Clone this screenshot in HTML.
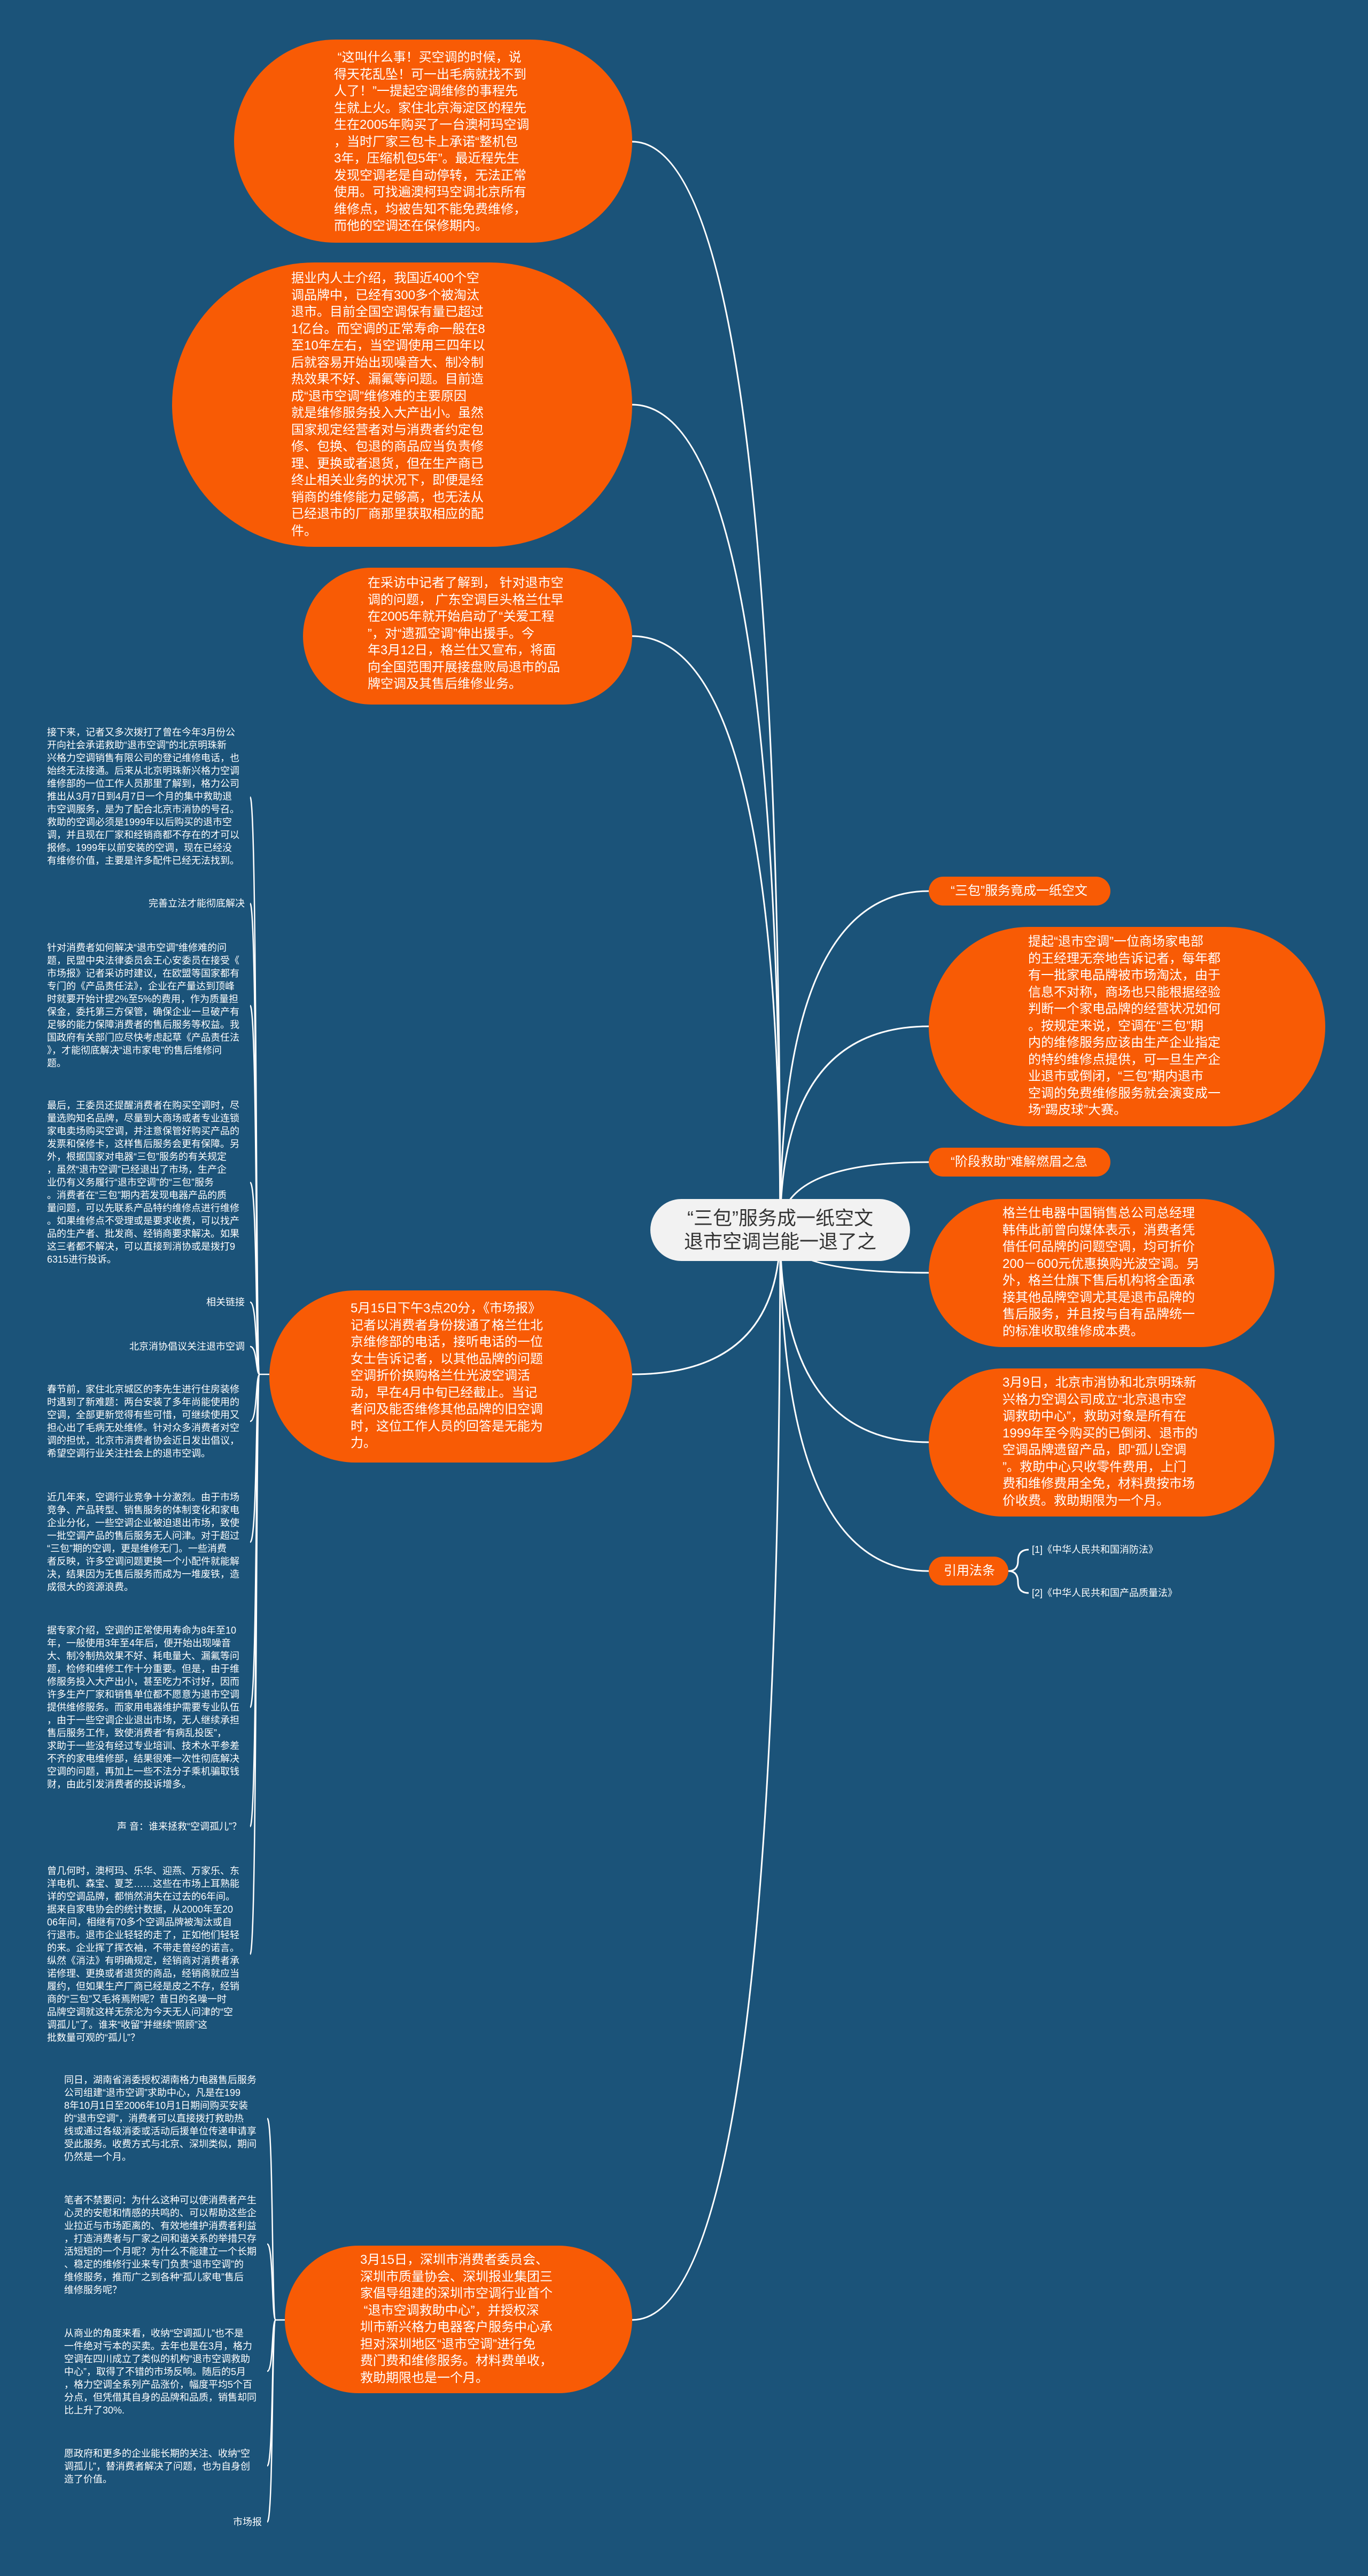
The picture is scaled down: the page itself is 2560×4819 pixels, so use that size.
<!DOCTYPE html>
<html><head><meta charset="utf-8"><style>
*{margin:0;padding:0;box-sizing:border-box}
body{width:2560px;height:4819px;background:#1b5379;position:relative;overflow:hidden;font-family:"Liberation Sans","Noto Sans CJK SC",sans-serif;color:#fff}
.b{position:absolute;background:#f85b05;border-radius:9999px}
.t{position:absolute;white-space:pre;font-size:24px;line-height:31.5px;color:#fff}
.s{position:absolute;white-space:pre;font-size:18px;line-height:24px;color:#fff}
.r{text-align:right}
svg{position:absolute;left:0;top:0}
</style></head><body>
<svg width="2560" height="4819" fill="none" stroke="#fff" stroke-width="3">
<path d="M1460 2301 Q1460 265 1183 265"/>
<path d="M1460 2301 Q1460 757 1183 757"/>
<path d="M1460 2301 Q1460 1190 1183 1190"/>
<path d="M1460 2301 Q1460 2571 1183 2571"/>
<path d="M1460 2301 Q1460 4340 1183 4340"/>
<path d="M1460 2301 Q1460 1667 1738 1667"/>
<path d="M1460 2301 Q1460 1920 1738 1920"/>
<path d="M1460 2301 Q1460 2174 1738 2174"/>
<path d="M1460 2301 Q1460 2381 1738 2381"/>
<path d="M1460 2301 Q1460 2698 1738 2698"/>
<path d="M1460 2301 Q1460 2939 1738 2939"/>
<path d="M1887 2939 Q1905 2939 1905 2920 Q1905 2899 1925 2899"/>
<path d="M1887 2939 Q1905 2939 1905 2960 Q1905 2980 1925 2980"/>
<g stroke-width="2.5">
<path d="M504 2571 L486 2571"/>
<path d="M486 2571 C478 2571 482 1491 468 1491"/>
<path d="M486 2571 C478 2571 482 1690 468 1690"/>
<path d="M486 2571 C478 2571 482 1881 468 1881"/>
<path d="M486 2571 C478 2571 482 2212 468 2212"/>
<path d="M486 2571 C478 2571 482 2436 468 2436"/>
<path d="M486 2571 C478 2571 482 2519 468 2519"/>
<path d="M486 2571 C478 2571 482 2659 468 2659"/>
<path d="M486 2571 C478 2571 482 2885 468 2885"/>
<path d="M486 2571 C478 2571 482 3194 468 3194"/>
<path d="M486 2571 C478 2571 482 3417 468 3417"/>
<path d="M486 2571 C478 2571 482 3656 468 3656"/>
<path d="M533 4340 L516 4340"/>
<path d="M516 4340 C508 4340 512 3963 500 3963"/>
<path d="M516 4340 C508 4340 512 4198 500 4198"/>
<path d="M516 4340 C508 4340 512 4436 500 4436"/>
<path d="M516 4340 C508 4340 512 4613 500 4613"/>
<path d="M516 4340 C508 4340 512 4718 500 4718"/>
</g>
</svg>

<div class="b" style="left:438px;top:74px;width:745px;height:380px"></div>
<div class="t" style="left:625px;top:92px"> “这叫什么事！买空调的时候，说
得天花乱坠！可一出毛病就找不到
人了！”一提起空调维修的事程先
生就上火。家住北京海淀区的程先
生在2005年购买了一台澳柯玛空调
，当时厂家三包卡上承诺“整机包
3年，压缩机包5年”。最近程先生
发现空调老是自动停转，无法正常
使用。可找遍澳柯玛空调北京所有
维修点，均被告知不能免费维修，
而他的空调还在保修期内。</div>

<div class="b" style="left:322px;top:491px;width:861px;height:532px"></div>
<div class="t" style="left:545px;top:505px">据业内人士介绍，我国近400个空
调品牌中，已经有300多个被淘汰
退市。目前全国空调保有量已超过
1亿台。而空调的正常寿命一般在8
至10年左右，当空调使用三四年以
后就容易开始出现噪音大、制冷制
热效果不好、漏氟等问题。目前造
成“退市空调”维修难的主要原因
就是维修服务投入大产出小。虽然
国家规定经营者对与消费者约定包
修、包换、包退的商品应当负责修
理、更换或者退货，但在生产商已
终止相关业务的状况下，即便是经
销商的维修能力足够高，也无法从
已经退市的厂商那里获取相应的配
件。</div>

<div class="b" style="left:567px;top:1062px;width:616px;height:256px"></div>
<div class="t" style="left:688px;top:1075px">在采访中记者了解到， 针对退市空
调的问题， 广东空调巨头格兰仕早
在2005年就开始启动了“关爱工程
”，对“遗孤空调”伸出援手。今
年3月12日，格兰仕又宣布，将面
向全国范围开展接盘败局退市的品
牌空调及其售后维修业务。</div>

<div class="b" style="left:504px;top:2414px;width:679px;height:322px"></div>
<div class="t" style="left:656px;top:2432px">5月15日下午3点20分，《市场报》
记者以消费者身份拨通了格兰仕北
京维修部的电话，接听电话的一位
女士告诉记者，以其他品牌的问题
空调折价换购格兰仕光波空调活
动，早在4月中旬已经截止。当记
者问及能否维修其他品牌的旧空调
时，这位工作人员的回答是无能为
力。</div>

<div class="b" style="left:533px;top:4201px;width:650px;height:276px"></div>
<div class="t" style="left:674px;top:4212px">3月15日，深圳市消费者委员会、
深圳市质量协会、深圳报业集团三
家倡导组建的深圳市空调行业首个
 “退市空调救助中心”，并授权深
圳市新兴格力电器客户服务中心承
担对深圳地区“退市空调”进行免
费门费和维修服务。材料费单收，
救助期限也是一个月。</div>

<div style="position:absolute;left:1217px;top:2243px;width:486px;height:116px;background:#f2f2f2;border-radius:58px;color:#333;font-size:36px;line-height:44px;text-align:center;padding-top:14px;white-space:pre">“三包”服务成一纸空文
退市空调岂能一退了之</div>

<div class="b" style="left:1738px;top:1640px;width:340px;height:54px"></div>
<div class="t" style="left:1779px;top:1651px">“三包”服务竟成一纸空文</div>
<div class="b" style="left:1738px;top:1734px;width:742px;height:373px"></div>
<div class="t" style="left:1924px;top:1746px">提起“退市空调”一位商场家电部
的王经理无奈地告诉记者，每年都
有一批家电品牌被市场淘汰，由于
信息不对称，商场也只能根据经验
判断一个家电品牌的经营状况如何
。按规定来说，空调在“三包”期
内的维修服务应该由生产企业指定
的特约维修点提供，可一旦生产企
业退市或倒闭，“三包”期内退市
空调的免费维修服务就会演变成一
场“踢皮球”大赛。</div>
<div class="b" style="left:1738px;top:2147px;width:340px;height:54px"></div>
<div class="t" style="left:1779px;top:2158px">“阶段救助”难解燃眉之急</div>
<div class="b" style="left:1738px;top:2243px;width:647px;height:277px"></div>
<div class="t" style="left:1876px;top:2254px">格兰仕电器中国销售总公司总经理
韩伟此前曾向媒体表示，消费者凭
借任何品牌的问题空调，均可折价
200－600元优惠换购光波空调。另
外，格兰仕旗下售后机构将全面承
接其他品牌空调尤其是退市品牌的
售后服务，并且按与自有品牌统一
的标准收取维修成本费。</div>
<div class="b" style="left:1738px;top:2560px;width:647px;height:277px"></div>
<div class="t" style="left:1876px;top:2571px">3月9日，北京市消协和北京明珠新
兴格力空调公司成立“北京退市空
调救助中心”，救助对象是所有在
1999年至今购买的已倒闭、退市的
空调品牌遗留产品，即“孤儿空调
”。救助中心只收零件费用，上门
费和维修费用全免，材料费按市场
价收费。救助期限为一个月。</div>
<div class="b" style="left:1738px;top:2912px;width:149px;height:54px"></div>
<div class="t" style="left:1766px;top:2923px">引用法条</div>
<div class="s" style="left:1931px;top:2887px">[1]《中华人民共和国消防法》</div>
<div class="s" style="left:1931px;top:2968px">[2]《中华人民共和国产品质量法》</div>

<div class="s" style="left:88px;top:1358px">接下来，记者又多次拨打了曾在今年3月份公
开向社会承诺救助“退市空调”的北京明珠新
兴格力空调销售有限公司的登记维修电话，也
始终无法接通。后来从北京明珠新兴格力空调
维修部的一位工作人员那里了解到，格力公司
推出从3月7日到4月7日一个月的集中救助退
市空调服务，是为了配合北京市消协的号召。
救助的空调必须是1999年以后购买的退市空
调，并且现在厂家和经销商都不存在的才可以
报修。1999年以前安装的空调，现在已经没
有维修价值，主要是许多配件已经无法找到。</div>
<div class="s r" style="right:2102px;top:1678px">完善立法才能彻底解决</div>
<div class="s" style="left:88px;top:1761px">针对消费者如何解决“退市空调”维修难的问
题，民盟中央法律委员会王心安委员在接受《
市场报》记者采访时建议，在欧盟等国家都有
专门的《产品责任法》，企业在产量达到顶峰
时就要开始计提2%至5%的费用，作为质量担
保金，委托第三方保管，确保企业一旦破产有
足够的能力保障消费者的售后服务等权益。我
国政府有关部门应尽快考虑起草《产品责任法
》，才能彻底解决“退市家电”的售后维修问
题。</div>
<div class="s" style="left:88px;top:2056px">最后，王委员还提醒消费者在购买空调时，尽
量选购知名品牌，尽量到大商场或者专业连锁
家电卖场购买空调，并注意保管好购买产品的
发票和保修卡，这样售后服务会更有保障。另
外，根据国家对电器“三包”服务的有关规定
，虽然“退市空调”已经退出了市场，生产企
业仍有义务履行“退市空调”的“三包”服务
。消费者在“三包”期内若发现电器产品的质
量问题，可以先联系产品特约维修点进行维修
。如果维修点不受理或是要求收费，可以找产
品的生产者、批发商、经销商要求解决。如果
这三者都不解决，可以直接到消协或是拨打9
6315进行投诉。</div>
<div class="s r" style="right:2102px;top:2424px">相关链接</div>
<div class="s r" style="right:2102px;top:2507px">北京消协倡议关注退市空调</div>
<div class="s" style="left:88px;top:2587px">春节前，家住北京城区的李先生进行住房装修
时遇到了新难题：两台安装了多年尚能使用的
空调，全部更新觉得有些可惜，可继续使用又
担心出了毛病无处维修。针对众多消费者对空
调的担忧，北京市消费者协会近日发出倡议，
希望空调行业关注社会上的退市空调。</div>
<div class="s" style="left:88px;top:2789px">近几年来，空调行业竞争十分激烈。由于市场
竞争、产品转型、销售服务的体制变化和家电
企业分化，一些空调企业被迫退出市场，致使
一批空调产品的售后服务无人问津。对于超过
“三包”期的空调，更是维修无门。一些消费
者反映，许多空调问题更换一个小配件就能解
决，结果因为无售后服务而成为一堆废铁，造
成很大的资源浪费。</div>
<div class="s" style="left:88px;top:3038px">据专家介绍，空调的正常使用寿命为8年至10
年，一般使用3年至4年后，便开始出现噪音
大、制冷制热效果不好、耗电量大、漏氟等问
题，检修和维修工作十分重要。但是，由于维
修服务投入大产出小，甚至吃力不讨好，因而
许多生产厂家和销售单位都不愿意为退市空调
提供维修服务。而家用电器维护需要专业队伍
，由于一些空调企业退出市场，无人继续承担
售后服务工作，致使消费者“有病乱投医”，
求助于一些没有经过专业培训、技术水平参差
不齐的家电维修部，结果很难一次性彻底解决
空调的问题，再加上一些不法分子乘机骗取钱
财，由此引发消费者的投诉增多。</div>
<div class="s r" style="right:2108px;top:3405px">声 音：谁来拯救“空调孤儿”？</div>
<div class="s" style="left:88px;top:3488px">曾几何时，澳柯玛、乐华、迎燕、万家乐、东
洋电机、森宝、夏芝……这些在市场上耳熟能
详的空调品牌，都悄然消失在过去的6年间。
据来自家电协会的统计数据，从2000年至20
06年间，相继有70多个空调品牌被淘汰或自
行退市。退市企业轻轻的走了，正如他们轻轻
的来。企业挥了挥衣袖，不带走曾经的诺言。
纵然《消法》有明确规定，经销商对消费者承
诺修理、更换或者退货的商品，经销商就应当
履约，但如果生产厂商已经是皮之不存，经销
商的“三包”又毛将焉附呢？昔日的名噪一时
品牌空调就这样无奈沦为今天无人问津的“空
调孤儿”了。谁来“收留”并继续“照顾”这
批数量可观的“孤儿”？</div>

<div class="s" style="left:120px;top:3879px">同日，湖南省消委授权湖南格力电器售后服务
公司组建“退市空调”求助中心，凡是在199
8年10月1日至2006年10月1日期间购买安装
的“退市空调”，消费者可以直接拨打救助热
线或通过各级消委或活动后援单位传递申请享
受此服务。收费方式与北京、深圳类似，期间
仍然是一个月。</div>
<div class="s" style="left:120px;top:4104px">笔者不禁要问：为什么这种可以使消费者产生
心灵的安慰和情感的共鸣的、可以帮助这些企
业拉近与市场距离的、有效地维护消费者利益
，打造消费者与厂家之间和谐关系的举措只存
活短短的一个月呢？为什么不能建立一个长期
、稳定的维修行业来专门负责“退市空调”的
维修服务，推而广之到各种“孤儿家电”售后
维修服务呢？</div>
<div class="s" style="left:120px;top:4353px">从商业的角度来看，收纳“空调孤儿”也不是
一件绝对亏本的买卖。去年也是在3月，格力
空调在四川成立了类似的机构“退市空调救助
中心”，取得了不错的市场反响。随后的5月
，格力空调全系列产品涨价，幅度平均5个百
分点，但凭借其自身的品牌和品质，销售却同
比上升了30%.</div>
<div class="s" style="left:120px;top:4578px">愿政府和更多的企业能长期的关注、收纳“空
调孤儿”，替消费者解决了问题，也为自身创
造了价值。</div>
<div class="s r" style="right:2070px;top:4706px">市场报</div>
</body></html>
